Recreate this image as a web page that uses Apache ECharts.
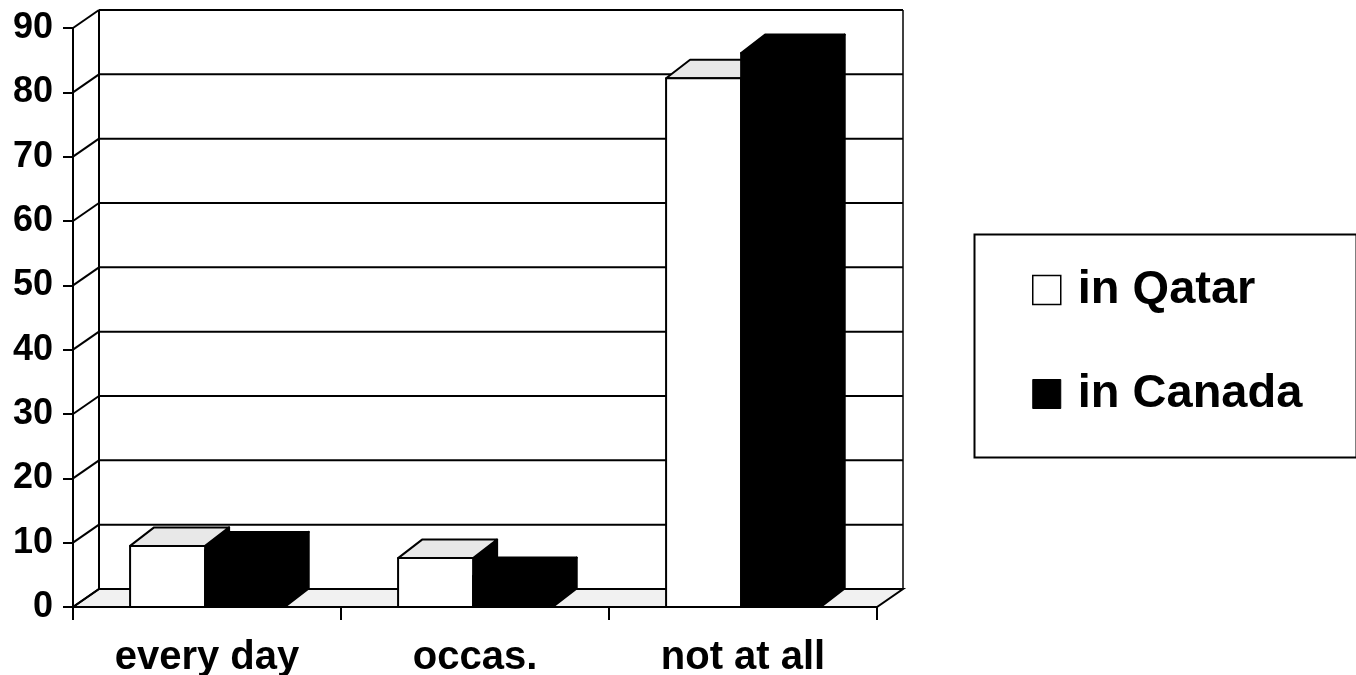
<!DOCTYPE html>
<html>
<head>
<meta charset="utf-8">
<title>Smoking frequency: Qatar vs Canada</title>
<script src="https://cdn.jsdelivr.net/npm/echarts@6/dist/echarts.min.js"></script>
<style>
  html, body { margin: 0; padding: 0; background: #ffffff; }
  #chart { width: 1356px; height: 675px; }
</style>
</head>
<body>
<div id="chart"></div>
<script>
// Data
const categories = ['every day', 'occas.', 'not at all'];
const qatarValues = [9.5, 7.6, 82.2];
const canadaValues = [8.8, 4.8, 86.1];
const yTicks = [0, 10, 20, 30, 40, 50, 60, 70, 80, 90];
const seriesNames = ['in Qatar', 'in Canada'];

// Pseudo-3D depth offsets (pixels)
const WALL_DX = 26, WALL_DY = -18;
const BAR_DX = 24, BAR_DY = -18.5;
const FONT = '"Liberation Sans", Arial, Helvetica, sans-serif';

const chart = echarts.init(document.getElementById('chart'), null, { renderer: 'canvas' });

// Walls, floor and receding gridlines
function renderScene(params, api) {
  const band = api.size([1, 0])[0];
  const c0 = api.coord([0, 0]);
  const L = c0[0] - band / 2;
  const R = L + band * categories.length;
  const y0 = c0[1];
  const yTop = api.coord([0, yTicks[yTicks.length - 1]])[1];
  const lineStyle = { stroke: '#000', lineWidth: 2, fill: null };
  const children = [];

  // floor
  children.push({
    type: 'polygon',
    shape: { points: [[L, y0], [R, y0], [R + WALL_DX, y0 + WALL_DY], [L + WALL_DX, y0 + WALL_DY]] },
    style: { fill: '#f1f1f1', stroke: '#000', lineWidth: 2 }
  });
  // back wall vertical edges
  children.push({ type: 'line', shape: { x1: L + WALL_DX, y1: yTop + WALL_DY, x2: L + WALL_DX, y2: y0 + WALL_DY }, style: lineStyle });
  children.push({ type: 'line', shape: { x1: R + WALL_DX, y1: yTop + WALL_DY, x2: R + WALL_DX, y2: y0 + WALL_DY }, style: { stroke: '#000', lineWidth: 1.5 } });
  // gridlines: back wall + left wall slant
  yTicks.forEach(function (v) {
    const y = api.coord([0, v])[1];
    children.push({ type: 'line', shape: { x1: L, y1: y, x2: L + WALL_DX, y2: y + WALL_DY }, style: lineStyle });
    children.push({ type: 'line', shape: { x1: L + WALL_DX, y1: y + WALL_DY, x2: R + WALL_DX, y2: y + WALL_DY }, style: lineStyle });
  });
  return { type: 'group', children: children };
}

// Box-shaped column: front face, top face, right side face
function makeBarRenderer(f0, f1, colors) {
  return function (params, api) {
    const idx = api.value(0);
    const val = api.value(1);
    const band = api.size([1, 0])[0];
    const top = api.coord([idx, val]);
    const base = api.coord([idx, 0]);
    const x0 = top[0] + f0 * band;
    const x1 = top[0] + f1 * band;
    const yt = top[1];
    const yb = base[1];
    const stroke = { stroke: '#000', lineWidth: 2, lineJoin: 'round' };
    return {
      type: 'group',
      children: [
        {
          type: 'polygon',
          shape: { points: [[x1, yt], [x1 + BAR_DX, yt + BAR_DY], [x1 + BAR_DX, yb + BAR_DY], [x1, yb]] },
          style: Object.assign({ fill: colors.side }, stroke)
        },
        {
          type: 'polygon',
          shape: { points: [[x0, yt], [x1, yt], [x1 + BAR_DX, yt + BAR_DY], [x0 + BAR_DX, yt + BAR_DY]] },
          style: Object.assign({ fill: colors.top }, stroke)
        },
        {
          type: 'rect',
          shape: { x: x0, y: yt, width: x1 - x0, height: yb - yt },
          style: Object.assign({ fill: colors.front }, stroke)
        }
      ]
    };
  };
}

const option = {
  animation: false,
  backgroundColor: '#ffffff',
  grid: { left: 73, right: 479, top: 28, bottom: 68, containLabel: false, outerBoundsMode: 'none' },
  xAxis: {
    type: 'category',
    data: categories,
    boundaryGap: true,
    axisLine: { show: true, lineStyle: { color: '#000', width: 2 } },
    axisTick: { show: true, length: 13, lineStyle: { color: '#000', width: 2 } },
    axisLabel: { color: '#000', fontSize: 40, fontWeight: 'bold', fontFamily: FONT, margin: 31, interval: 0 },
    splitLine: { show: false }
  },
  yAxis: {
    type: 'value',
    min: 0,
    max: 90,
    interval: 10,
    axisLine: { show: true, lineStyle: { color: '#000', width: 2 } },
    axisTick: { show: true, length: 10, lineStyle: { color: '#000', width: 2 } },
    axisLabel: { color: '#000', fontSize: 36, fontWeight: 'bold', fontFamily: FONT, margin: 20 },
    splitLine: { show: false }
  },
  legend: {
    orient: 'vertical',
    left: 1032,
    top: 264,
    padding: 0,
    itemGap: 52,
    itemWidth: 28,
    itemHeight: 29,
    selectedMode: false,
    textStyle: { color: '#000', fontSize: 47, fontWeight: 'bold', fontFamily: FONT, lineHeight: 52, padding: [0, 0, 0, 12] },
    data: [
      { name: seriesNames[0], icon: 'rect', itemStyle: { color: '#ffffff', borderColor: '#000', borderWidth: 1.5 } },
      { name: seriesNames[1], icon: 'rect', itemStyle: { color: '#000000', borderColor: '#000', borderWidth: 1 } }
    ]
  },
  graphic: [
    {
      type: 'rect',
      left: 972,
      top: 232,
      shape: { width: 382, height: 223 },
      style: { fill: null, stroke: '#000', lineWidth: 2 },
      z: 10
    }
  ],
  series: [
    {
      type: 'custom',
      name: 'scene',
      renderItem: renderScene,
      data: [[0, 0]],
      silent: true,
      z: 1
    },
    {
      type: 'custom',
      name: seriesNames[0],
      renderItem: makeBarRenderer(-0.287, -0.007, { front: '#ffffff', top: '#e8e8e8', side: '#000000' }),
      data: qatarValues.map(function (v, i) { return [i, v]; }),
      itemStyle: { color: '#ffffff', borderColor: '#000' },
      encode: { x: 0, y: 1 },
      z: 2
    },
    {
      type: 'custom',
      name: seriesNames[1],
      renderItem: makeBarRenderer(-0.007, 0.29, { front: '#000000', top: '#000000', side: '#000000' }),
      data: canadaValues.map(function (v, i) { return [i, v]; }),
      itemStyle: { color: '#000000' },
      encode: { x: 0, y: 1 },
      z: 3
    }
  ]
};

chart.setOption(option);
</script>
</body>
</html>
